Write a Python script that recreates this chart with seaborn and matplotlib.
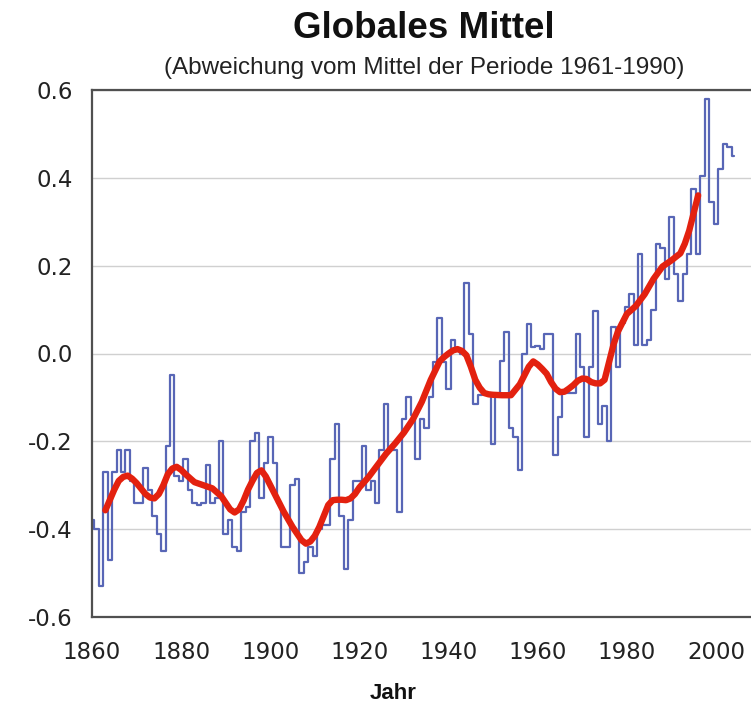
import matplotlib
matplotlib.use("Agg")
import matplotlib.pyplot as plt
import seaborn as sns
import pandas as pd

# annual global temperature anomaly (deg C, vs. 1961-1990)
years = list(range(1860, 2005))
anomaly = [
    -0.38, -0.40, -0.53, -0.27, -0.47, -0.27, -0.22, -0.27, -0.22, -0.29,   # 1860s
    -0.34, -0.34, -0.26, -0.31, -0.37, -0.41, -0.45, -0.21, -0.05, -0.28,   # 1870s
    -0.29, -0.24, -0.31, -0.34, -0.345, -0.34, -0.255, -0.34, -0.33, -0.20, # 1880s
    -0.41, -0.38, -0.44, -0.45, -0.36, -0.35, -0.20, -0.18, -0.33, -0.25,   # 1890s
    -0.19, -0.25, -0.34, -0.44, -0.44, -0.30, -0.285, -0.50, -0.475, -0.44, # 1900s
    -0.46, -0.40, -0.39, -0.39, -0.24, -0.16, -0.37, -0.49, -0.38, -0.29,   # 1910s
    -0.29, -0.21, -0.31, -0.29, -0.34, -0.22, -0.115, -0.22, -0.22, -0.36,  # 1920s
    -0.15, -0.10, -0.14, -0.24, -0.15, -0.17, -0.10, -0.02, 0.08, -0.02,    # 1930s
    -0.08, 0.03, 0.005, 0.0, 0.16, 0.045, -0.115, -0.095, -0.09, -0.09,     # 1940s
    -0.205, -0.095, -0.016, 0.05, -0.17, -0.19, -0.266, 0.0, 0.067, 0.014, # 1950s
    0.018, 0.01, 0.045, 0.045, -0.23, -0.145, -0.09, -0.09, -0.09, 0.045,   # 1960s
    -0.03, -0.19, -0.03, 0.097, -0.16, -0.12, -0.20, 0.06, -0.03, 0.07,     # 1970s
    0.107, 0.135, 0.02, 0.226, 0.02, 0.03, 0.10, 0.25, 0.24, 0.17,          # 1980s
    0.31, 0.18, 0.12, 0.18, 0.226, 0.375, 0.226, 0.405, 0.579, 0.344,       # 1990s
    0.295, 0.42, 0.476, 0.47, 0.45,                                         # 2000s
]

# smoothed curve (red)
smooth_years = [1863, 1865, 1866, 1867, 1868, 1869, 1870, 1872, 1873, 1874,
                1875, 1876, 1877, 1878, 1879, 1880, 1881, 1883, 1885, 1887,
                1889, 1890, 1891, 1892, 1893, 1894, 1895, 1896, 1897, 1898,
                1899, 1900, 1901, 1903, 1905, 1906, 1907, 1908, 1909, 1910,
                1911, 1912, 1913, 1914, 1915, 1916, 1917, 1918, 1919, 1920,
                1922, 1924, 1926, 1928, 1930, 1932, 1934, 1936, 1938, 1939,
                1940, 1941, 1942, 1943, 1944, 1945, 1946, 1947, 1948, 1949,
                1950, 1952, 1954, 1956, 1957, 1958, 1959, 1960, 1961, 1962,
                1963, 1964, 1965, 1966, 1967, 1968, 1969, 1970, 1971, 1972,
                1973, 1974, 1975, 1976, 1977, 1978, 1980, 1982, 1984, 1986,
                1988, 1990, 1992, 1993, 1994, 1995, 1996]
smooth_vals = [-0.357, -0.31, -0.29, -0.281, -0.278, -0.285, -0.295, -0.32, -0.328, -0.33,
               -0.32, -0.30, -0.275, -0.262, -0.258, -0.265, -0.275, -0.293, -0.300, -0.307,
               -0.325, -0.34, -0.355, -0.362, -0.355, -0.335, -0.31, -0.29, -0.272, -0.266,
               -0.28, -0.30, -0.32, -0.36, -0.395, -0.41, -0.425, -0.433, -0.428, -0.415,
               -0.395, -0.37, -0.345, -0.334, -0.333, -0.333, -0.334, -0.33, -0.32, -0.305,
               -0.282, -0.255, -0.228, -0.205, -0.18, -0.15, -0.11, -0.06, -0.018, -0.008,
               0.0, 0.007, 0.01, 0.006, -0.004, -0.03, -0.06, -0.078, -0.09, -0.093,
               -0.094, -0.095, -0.095, -0.07, -0.05, -0.03, -0.018, -0.025, -0.035, -0.046,
               -0.065, -0.08, -0.088, -0.087, -0.08, -0.072, -0.062, -0.057, -0.058, -0.065,
               -0.068, -0.068, -0.06, -0.02, 0.02, 0.05, 0.09, 0.108, 0.135, 0.17,
               0.198, 0.212, 0.228, 0.25, 0.28, 0.32, 0.36]

yticks = [-0.6, -0.4, -0.2, 0.0, 0.2, 0.4, 0.6]
xticks = list(range(1860, 2001, 20))

sns.set_theme(style="white")
plt.rcParams['font.family'] = ['DejaVu Sans']

df = pd.DataFrame({'Jahr': years, 'Abweichung': anomaly})
sm = pd.DataFrame({'Jahr': smooth_years, 'Abweichung': smooth_vals})

fig = plt.figure(figsize=(7.51, 7.05), dpi=100)
ax = fig.add_axes([92 / 751, 88 / 705, 1 - 92 / 751, 527 / 705])

sns.lineplot(data=df, x='Jahr', y='Abweichung', ax=ax, drawstyle='steps-mid',
             color='#5866b6', linewidth=1.6, estimator=None)
sns.lineplot(data=sm, x='Jahr', y='Abweichung', ax=ax, color='#e3210f',
             linewidth=4.6, estimator=None, solid_capstyle='round', solid_joinstyle='round')

ax.set_xlim(1860, 1860 + 659 / 4.457)
ax.set_ylim(-0.6, 0.6)
ax.set_xticks(xticks)
ax.set_yticks(yticks)
ax.set_yticklabels([f"{v:.1f}" for v in yticks])
ax.yaxis.grid(True, color='#d0d0d0', linewidth=1.0)
ax.xaxis.grid(False)
ax.tick_params(axis='both', direction='out', length=6, width=1, color='#555555',
               labelsize=16.5, labelcolor='#222222')
ax.tick_params(axis='x', pad=11)
ax.tick_params(axis='y', pad=8)
ax.set_xlabel('')
ax.set_ylabel('')
for side in ['left', 'bottom', 'top']:
    ax.spines[side].set_color('#505050')
    ax.spines[side].set_linewidth(1.6)
ax.spines['right'].set_visible(False)

fig.text(424 / 751, 1 - 38 / 705, 'Globales Mittel', ha='center', va='baseline',
         fontsize=26.5, fontweight='bold', family='Liberation Sans', color='#111111')
fig.text(424 / 751, 1 - 74 / 705, '(Abweichung vom Mittel der Periode 1961-1990)',
         ha='center', va='baseline', fontsize=17.5, family='Liberation Sans', color='#222222')
fig.text(393 / 751, 1 - 699 / 705, 'Jahr', ha='center', va='baseline',
         fontsize=16, fontweight='bold', family='Liberation Sans', color='#111111')

fig.savefig('out.png', dpi=100)
